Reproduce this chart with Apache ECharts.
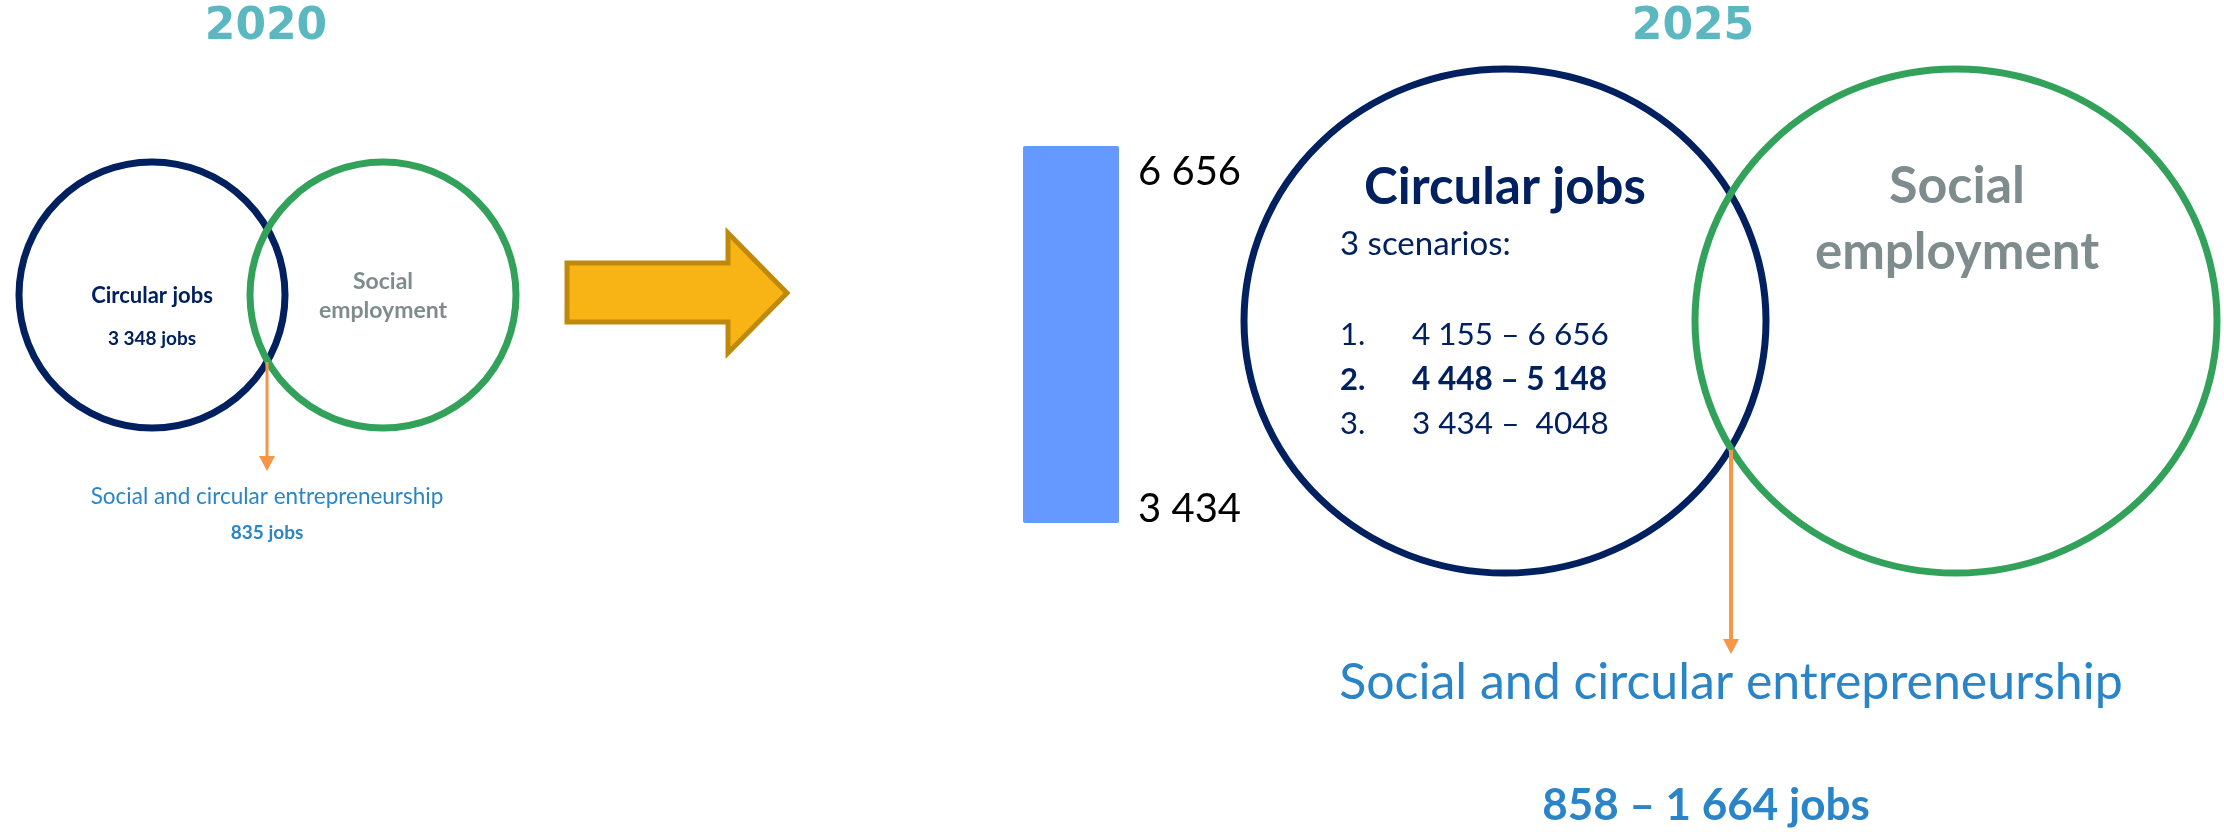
<!DOCTYPE html>
<html>
<head>
<meta charset="utf-8">
<title>Circular jobs 2020 - 2025</title>
<script src="https://cdn.jsdelivr.net/npm/echarts@6/dist/echarts.min.js"></script>
<style>
  html, body { margin: 0; padding: 0; background: #fff; }
  #chart { width: 2224px; height: 832px; }
</style>
</head>
<body>
<div id="chart"></div>
<script>
// data
var years = ['2020', '2025']
var circularJobs2020 = 3348
var entrepreneurship2020 = 835
var rangeCategory = ['2025']
var rangeLow = [3434]
var rangeHigh = [6656]
var scenarioNumbers = ['1.', '2.', '3.']
var scenarioText = ['4 155 – 6 656', '4 448 – 5 148', '3 434 –  4048']
var entrepreneurship2025 = [858, 1664]

var NAVY = '#002060'
var GREEN = '#32A25A'
var GREY = '#7F8C8D'
var TEAL = '#5BB8C1'
var BLUE = '#2A85C8'
var ORANGE = '#F79646'
var FONT = 'Lato'

function fmt (n) {
  return String(n).replace(/\B(?=(\d{3})+(?!\d))/g, ' ')
}

// text helper, sets both old and new align names
function txt (x, y, text, size, color, weight, align, family) {
  return {
    type: 'text',
    x: x,
    y: y,
    silent: true,
    style: {
      text: text,
      font: (weight || 'normal') + ' ' + size + 'px "' + (family || FONT) + '"',
      fill: color,
      align: align || 'center',
      textAlign: align || 'center',
      verticalAlign: 'middle',
      textVerticalAlign: 'middle'
    }
  }
}

function ring (cx, cy, rx, ry, color) {
  return {
    type: 'circle',
    x: cx,
    y: cy,
    scaleY: ry / rx,
    silent: true,
    shape: { cx: 0, cy: 0, r: rx },
    style: { fill: 'none', stroke: color, lineWidth: 7 }
  }
}

function downArrow (x, y1, y2, w) {
  return [
    { type: 'line', silent: true, shape: { x1: x, y1: y1, x2: x, y2: y2 - 14 }, style: { stroke: ORANGE, lineWidth: w } },
    { type: 'polygon', silent: true, shape: { points: [[x - 8, y2 - 15], [x + 8, y2 - 15], [x, y2]] }, style: { fill: ORANGE } }
  ]
}

var graphics = [
  txt(266, 28, years[0], 44, TEAL, 'bold', 'center', 'DejaVu Sans'),
  txt(1693, 28, years[1], 44, TEAL, 'bold', 'center', 'DejaVu Sans'),

  // 2020 venn
  ring(152, 295, 133, 133, NAVY),
  ring(383, 295, 133, 133, GREEN),
  txt(152, 296, 'Circular jobs', 22, NAVY, 'bold'),
  txt(152, 339, fmt(circularJobs2020) + ' jobs', 19, NAVY, 'bold'),
  txt(383, 282, 'Social', 23, GREY, 'bold'),
  txt(383, 311, 'employment', 23, GREY, 'bold'),
  txt(267, 497, 'Social and circular entrepreneurship', 22.5, BLUE),
  txt(267, 533, entrepreneurship2020 + ' jobs', 19, BLUE, 'bold'),

  // big yellow arrow
  {
    type: 'polygon',
    silent: true,
    shape: { points: [[567, 263], [728, 263], [728, 233], [787, 293], [728, 353], [728, 322], [567, 322]] },
    style: { fill: '#F8B415', stroke: '#BF8A0B', lineWidth: 5, lineJoin: 'miter' }
  },

  // 2025 venn
  ring(1505, 321, 261, 252, NAVY),
  ring(1956, 321, 261, 252, GREEN),
  txt(1505, 188, 'Circular jobs', 51, NAVY, 'bold'),
  txt(1340, 244, '3 scenarios:', 33, NAVY, 'normal', 'left'),
  txt(1957, 186, 'Social', 52, GREY, 'bold'),
  txt(1957, 253, 'employment', 51, GREY, 'bold'),
  txt(1731, 683, 'Social and circular entrepreneurship', 50, BLUE),
  txt(1706, 806, fmt(entrepreneurship2025[0]) + ' – ' + fmt(entrepreneurship2025[1]) + ' jobs', 44, BLUE, 'bold')
]

var rowY = [335, 380, 424]
scenarioText.forEach(function (s, i) {
  var w = i === 1 ? 'bold' : 'normal'
  graphics.push(txt(1340, rowY[i], scenarioNumbers[i], 31, NAVY, w, 'left'))
  graphics.push(txt(1412, rowY[i], s, 31.5, NAVY, w, 'left'))
})
graphics = graphics.concat(downArrow(267, 362, 471, 3))
graphics = graphics.concat(downArrow(1731, 450, 654, 4))

var chart = echarts.init(document.getElementById('chart'))
var option = {
  backgroundColor: '#fff',
  animation: false,
  grid: { left: 1023, top: 146, width: 96, height: 377 },
  xAxis: {
    type: 'category',
    data: rangeCategory,
    show: false
  },
  yAxis: {
    type: 'value',
    min: rangeLow[0],
    max: rangeHigh[0],
    show: false
  },
  series: [
    {
      type: 'custom',
      data: rangeCategory.map(function (c, i) { return [i, rangeLow[i], rangeHigh[i]] }),
      renderItem: function (params, api) {
        var lo = api.coord([api.value(0), api.value(1)])
        var hi = api.coord([api.value(0), api.value(2)])
        var w = api.size([1, 0])[0]
        var lx = lo[0] + w / 2 + 19
        return {
          type: 'group',
          children: [
            {
              type: 'rect',
              shape: { x: lo[0] - w / 2, y: hi[1], width: w, height: lo[1] - hi[1], r: 2 },
              style: { fill: '#6699FF' }
            },
            {
              type: 'text',
              x: lx,
              y: hi[1] + 26,
              style: {
                text: fmt(api.value(2)), font: '40px "' + FONT + '"', fill: '#000',
                align: 'left', textAlign: 'left', verticalAlign: 'middle', textVerticalAlign: 'middle'
              }
            },
            {
              type: 'text',
              x: lx,
              y: lo[1] - 14,
              style: {
                text: fmt(api.value(1)), font: '40px "' + FONT + '"', fill: '#000',
                align: 'left', textAlign: 'left', verticalAlign: 'middle', textVerticalAlign: 'middle'
              }
            }
          ]
        }
      }
    }
  ],
  graphic: graphics
}
chart.setOption(option)
</script>
</body>
</html>
